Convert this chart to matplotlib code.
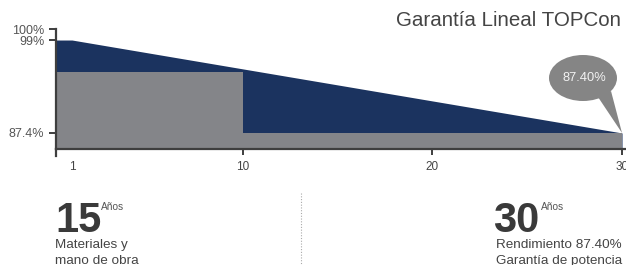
import matplotlib
matplotlib.use("Agg")
import matplotlib.pyplot as plt
from matplotlib.patches import Ellipse, Polygon
import numpy as np

plt.rcParams['font.family'] = ['Liberation Sans', 'DejaVu Sans']

# ---- data ----
perf_years = [0, 1, 30]
perf_values = [99, 99, 87.4]
product_years = [0, 10, 10, 30]
product_values = [95, 95, 87.4, 87.4]
x_ticks = [1, 10, 20, 30]
x_tick_labels = ['1', '10', '20', '30']
y_ticks = [87.4, 99, 100]
y_tick_labels = ['87.4%', '99%', '100%']
title = 'Garantía Lineal TOPCon'
bubble_label = '87.40%'
product_warranty = '15'
perf_warranty = '30'
years_word = 'Años'
product_desc = ['Materiales y', 'mano de obra']
perf_desc = ['Rendimiento 87.40%', 'Garantía de potencia']

W, H = 626, 265
fig = plt.figure(figsize=(W / 100, H / 100), dpi=100)

def px(x, y):
    return (x / W, (H - y) / H)

BLUE = '#1b335f'
GRAY = '#848589'
AX = '#3e3e3e'
TXT = '#444444'

# axes geometry
left, right, top, bottom = 56, 626, 29, 149
ax = fig.add_axes([left / W, (H - bottom) / H, (right - left) / W, (bottom - top) / H])

def fwd(y):
    y = np.asarray(y, dtype=float)
    return np.where(y <= 99, y, 99 + (y - 99) * 1.375)

def inv(y):
    y = np.asarray(y, dtype=float)
    return np.where(y <= 99, y, 99 + (y - 99) / 1.375)

ax.set_yscale('function', functions=(fwd, inv))
ax.set_xlim(0.157, 30.21)
ax.set_ylim(85.4, 100)

ax.fill_between(perf_years, perf_values, 80, color=BLUE, lw=0, zorder=1)
ax.fill_between(product_years, product_values, 80, color=GRAY, lw=0, zorder=2)

for s in ['top', 'right']:
    ax.spines[s].set_visible(False)
for s in ['left', 'bottom']:
    ax.spines[s].set_color(AX)
    ax.spines[s].set_linewidth(1.6)
    ax.spines[s].set_zorder(5)

ax.set_xticks(x_ticks)
ax.set_xticklabels(x_tick_labels)
ax.set_yticks(y_ticks)
ax.set_yticklabels(y_tick_labels)
ax.yaxis.set_minor_locator(matplotlib.ticker.NullLocator())
ax.tick_params(axis='x', direction='out', length=4, width=1.4, color=AX,
               labelsize=8.5, labelcolor=TXT, pad=4.5)
ax.tick_params(axis='y', direction='out', length=5, width=1.4, color=AX,
               labelsize=9, labelcolor='#555555', pad=3.5)
ax.xaxis.get_major_ticks()[0].tick1line.set_visible(False)
# spine extension below the axis
ax.plot([0, 0], [0, -0.055], transform=ax.transAxes, color=AX, lw=1.6,
        clip_on=False, zorder=6)

# bubble
fig.canvas.draw()
tip_disp = ax.transData.transform((perf_years[-1], perf_values[-1]))
tip_fig = fig.transFigure.inverted().transform(tip_disp)
ell = Ellipse(px(583, 78), 68 / W, 46 / H, transform=fig.transFigure,
              facecolor='#858585', edgecolor='none', zorder=10)
fig.add_artist(ell)
tail = Polygon([px(598, 97), px(611, 91), tuple(tip_fig)], closed=True,
               transform=fig.transFigure, facecolor='#858585', edgecolor='none', zorder=10)
fig.add_artist(tail)
fig.text(*px(584, 78), bubble_label, ha='center', va='center', fontsize=9.3,
         color='#f2f2f2', zorder=11)

# title
fig.text(*px(621, 21), title, ha='right', va='center', fontsize=14.8, color=TXT)

# bottom info
fig.add_artist(plt.Line2D([301 / W, 301 / W], [(H - 193) / H, 0], transform=fig.transFigure,
                          color='#aaaaaa', lw=0.8, linestyle=(0, (1, 1.5))))

def block(x, xdesc, num, desc, x_years):
    fig.text(*px(x, 232), num, ha='left', va='baseline', fontsize=30,
             fontweight='bold', color='#3a3a3a')
    fig.text(*px(x_years, 210), years_word, ha='left', va='baseline',
             fontsize=7.3, color='#555555')
    fig.text(*px(xdesc, 248), desc[0], ha='left', va='baseline', fontsize=9.7, color='#444444')
    fig.text(*px(xdesc, 264), desc[1], ha='left', va='baseline', fontsize=9.7, color='#444444')

block(55, 55, product_warranty, product_desc, 101)
block(493, 496, perf_warranty, perf_desc, 541)

fig.savefig('out.png', dpi=100)
